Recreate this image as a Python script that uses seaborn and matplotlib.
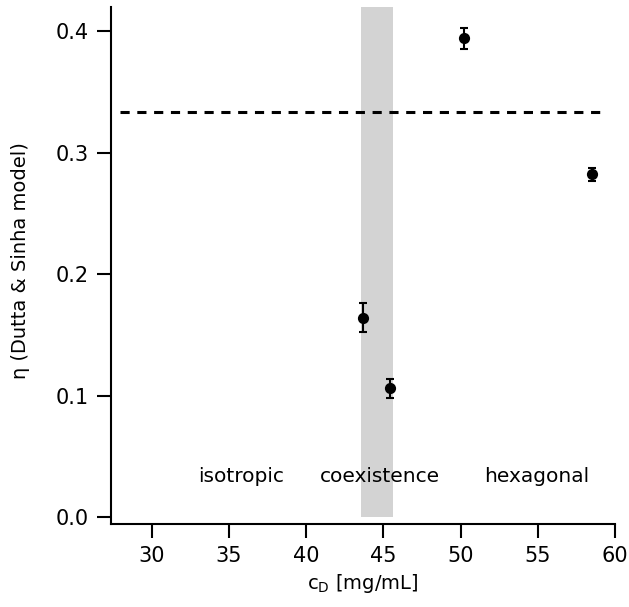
import matplotlib
matplotlib.use("Agg")
import matplotlib.pyplot as plt
import seaborn as sns
import pandas as pd

# data
conc = [43.7, 45.45, 50.2, 58.5]
eta = [0.164, 0.106, 0.394, 0.282]
eta_err = [0.012, 0.008, 0.009, 0.005]
band = [43.55, 45.6]
threshold = 1.0 / 3.0
threshold_x = [27.9, 59.5]
phase_labels = ["isotropic", "coexistence", "hexagonal"]
phase_x = [35.8, 44.8, 54.9]
phase_y = 0.033
xticks = [30, 35, 40, 45, 50, 55, 60]
yticks = [0.0, 0.1, 0.2, 0.3, 0.4]

sns.set_style("ticks", {"axes.edgecolor": "black", "xtick.color": "black",
                        "ytick.color": "black", "text.color": "black",
                        "axes.labelcolor": "black"})
plt.rcParams['font.family'] = ['DejaVu Sans']

fig = plt.figure(figsize=(6.29, 6.07), dpi=100)
ax = fig.add_axes([0.1765, 0.1367, 0.8012, 0.852])

ylim = (-0.0058, 0.42)
ax.fill_betweenx([0, ylim[1]], band[0], band[1], color="#d3d3d3", lw=0, zorder=0)
ax.plot(threshold_x, [threshold, threshold], ls=(0, (3, 2.5)), color="black", lw=2.2, zorder=1)

df = pd.DataFrame({"c": conc, "eta": eta, "err": eta_err})
ax.errorbar(df["c"], df["eta"], yerr=df["err"], fmt="none", ecolor="black",
            elinewidth=1.5, capsize=3, capthick=1.5, zorder=2)
sns.scatterplot(data=df, x="c", y="eta", ax=ax, color="black", s=65,
                edgecolor="black", linewidth=0, zorder=3)

for lab, x in zip(phase_labels, phase_x):
    ax.text(x, phase_y, lab, ha="center", va="center", fontsize=14.5, color="black")

ax.set_xlim(27.35, 60)
ax.set_ylim(*ylim)
ax.set_xticks(xticks)
ax.set_yticks(yticks)
ax.set_yticklabels([f"{v:.1f}" for v in yticks])
ax.tick_params(direction="out", length=10, width=1.5, labelsize=15, pad=6,
               colors="black")
for s in ["left", "bottom"]:
    ax.spines[s].set_linewidth(1.5)
    ax.spines[s].set_color("black")
sns.despine(ax=ax)
ax.set_xlabel(r"c$_\mathrm{D}$ [mg/mL]", fontsize=14, color="black")
ax.set_ylabel("η (Dutta & Sinha model)", fontsize=14, color="black")
ax.yaxis.set_label_coords(-0.16, 0.51)

fig.savefig("out.png", dpi=100)
